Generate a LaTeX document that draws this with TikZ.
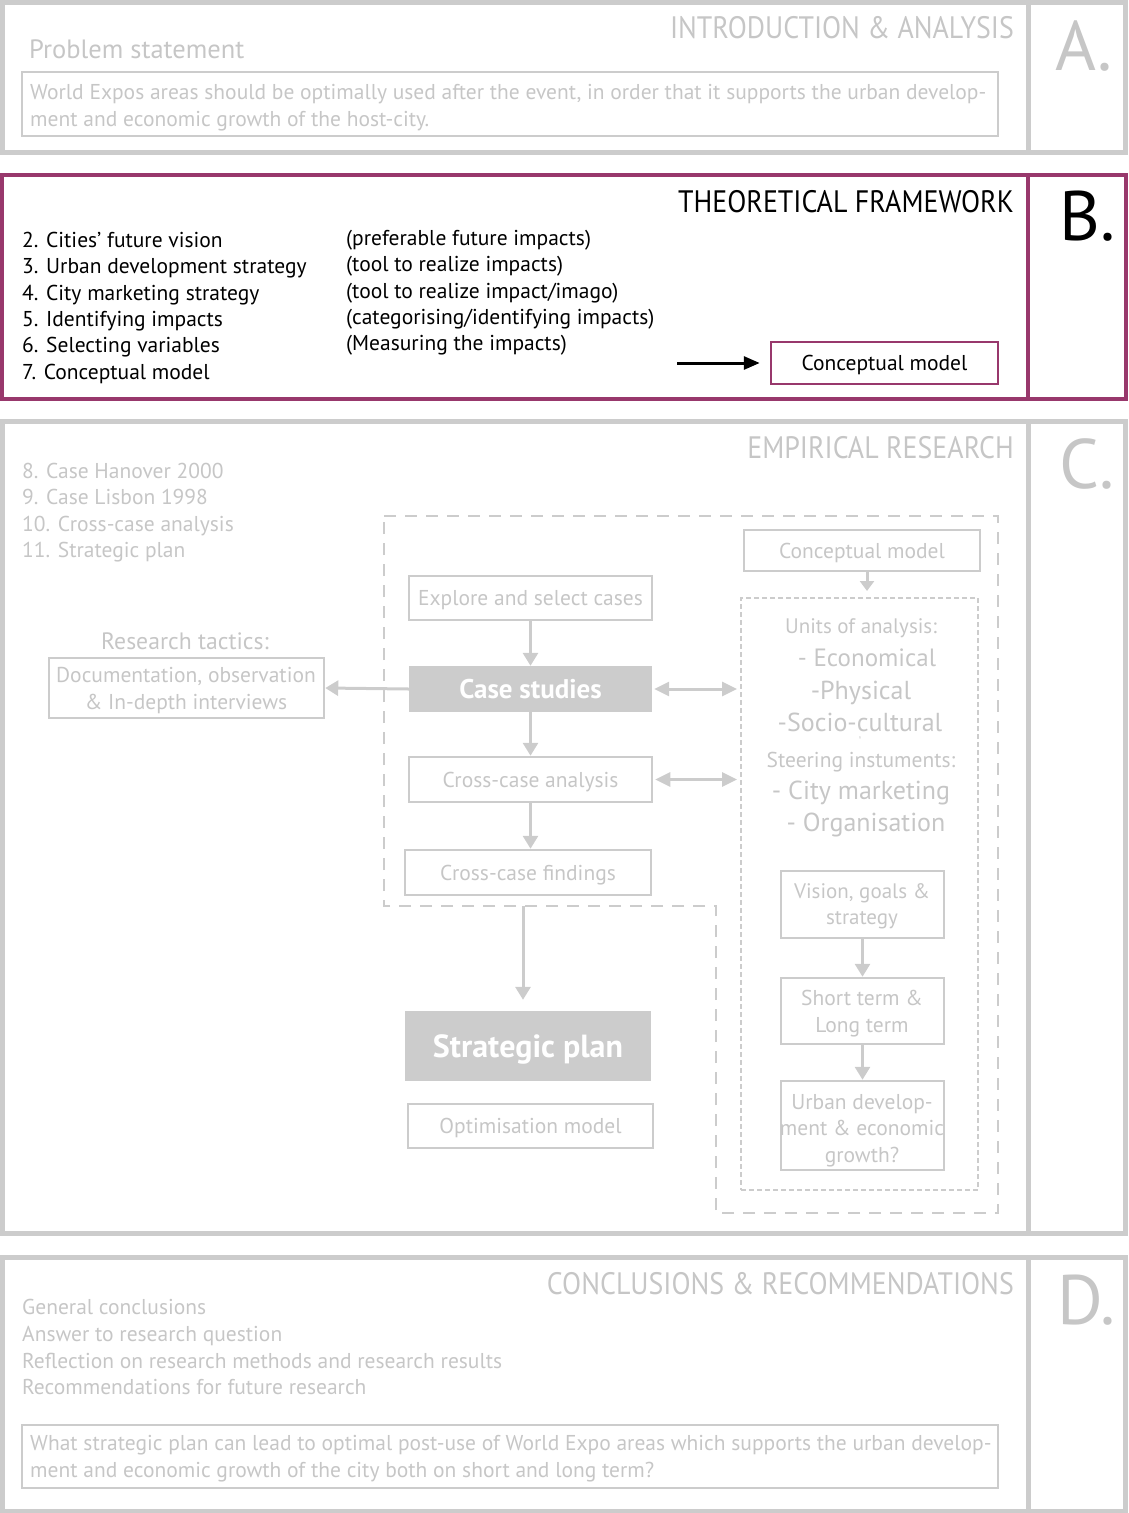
\documentclass[tikz,border=0pt]{standalone}
\usepackage{fontspec}
\setmainfont{PT Sans}
\newfontfamily\headfont[FakeStretch=0.9]{PT Sans}
\usetikzlibrary{arrows.meta}
\definecolor{fr}{RGB}{204,204,204}
\definecolor{tx}{RGB}{198,198,198}
\definecolor{pl}{RGB}{152,56,108}
\newcommand{\myfs}[1]{\fontsize{#1}{#1}\selectfont}
\begin{document}
\begin{tikzpicture}[x=1pt,y=-1pt,
  frame/.style={draw=fr,line width=5},
  pframe/.style={draw=pl,line width=4},
  tl/.style={inner sep=0,anchor=base west,text=tx,font=\myfs{21.5}},
  tc/.style={inner sep=0,anchor=base,text=tx,font=\myfs{21.5}},
  head/.style={inner sep=0,anchor=base east,text=tx,font=\headfont\myfs{31}},
  letter/.style={inner sep=0,anchor=base west,text=tx,font=\myfs{70}},
  gbox/.style={draw=fr,line width=2.5,inner sep=0,text=tx,font=\myfs{21.5},text height=15pt,text depth=0pt},
  fbox/.style={fill=fr,inner sep=0,text=white},
  garrow/.style={draw=fr,line width=3,-{Triangle[width=15,length=13]}},
  gdarrow/.style={draw=fr,line width=3,{Triangle[width=14,length=15]}-{Triangle[width=14,length=15]}},
  longdash/.style={draw=fr,line width=2,dash pattern=on 12 off 9},
  shortdash/.style={draw=fr,line width=2,dash pattern=on 5 off 3}
]
\useasboundingbox (0,0) rectangle (1128,1513);

% ---------- A ----------
\draw[frame] (2.5,2.5) rectangle (1125.5,152);
\draw[frame] (1028,2.5) -- (1028,152);
\node[head] (hA) at (1014,38) {INTRODUCTION \& ANALYSIS};
\node[letter] (lA) at (1055,70) {A.};
\node[tl,font=\myfs{26.5}] (ps) at (29,58) {Problem statement};
\node[gbox,minimum width=976,minimum height=64] (psbox) at (510,104) {};
\node[tl] (ps1) at (30,99) {World Expos areas should be optimally used after the event, in order that it supports the urban develop-};
\node[tl] (ps2) at (30,126) {ment and economic growth of the host-city.};

% ---------- B ----------
\draw[pframe] (2,175) rectangle (1126,399);
\draw[pframe] (1028,175) -- (1028,399);
\node[head,text=black] (hB) at (1014,212) {THEORETICAL FRAMEWORK};
\node[letter,text=black] (lB) at (1059,240) {B.};
\node[tl,text=black] (b1) at (22,247) {2. Cities’ future vision};
\node[tl,text=black] (b2) at (22,273) {3. Urban development strategy};
\node[tl,text=black] (b3) at (22,300) {4. City marketing strategy};
\node[tl,text=black] (b4) at (22,326) {5. Identifying impacts};
\node[tl,text=black] (b5) at (22,352) {6. Selecting variables};
\node[tl,text=black] (b6) at (22,379) {7. Conceptual model};
\node[tl,text=black] (c1) at (346,245) {(preferable future impacts)};
\node[tl,text=black] (c2) at (346,271) {(tool to realize impacts)};
\node[tl,text=black] (c3) at (346,298) {(tool to realize impact/imago)};
\node[tl,text=black] (c4) at (346,324) {(categorising/identifying impacts)};
\node[tl,text=black] (c5) at (346,350) {(Measuring the impacts)};
\node[gbox,draw=pl,text=black,minimum width=227,minimum height=42] (cmB) at (884.5,363) {Conceptual model};
\coordinate (arrB) at (677,363);
\draw[line width=3,-{Triangle[width=13,length=16]}] (arrB) -- ([xshift=-10]cmB.west);

% ---------- C ----------
\draw[frame] (2.5,421) rectangle (1125.5,1233);
\draw[frame] (1028,421) -- (1028,1233);
\node[head] (hC) at (1014,458) {EMPIRICAL RESEARCH};
\node[letter] (lC) at (1059,488) {C.};
\node[tl] (e1) at (22,478) {8. Case Hanover 2000};
\node[tl] (e2) at (22,504) {9. Case Lisbon 1998};
\node[tl] (e3) at (22,531) {10. Cross-case analysis};
\node[tl] (e4) at (22,557) {11. Strategic plan};

\draw[longdash] (384,516) -- (998,516) -- (998,1213) -- (716,1213) -- (716,906) -- (384,906) -- cycle;
\node[draw=fr,line width=2,dash pattern=on 5 off 3,minimum width=237,minimum height=592,inner sep=0] (inner) at (859.5,894) {};

\node[tc,font=\myfs{23.7}] (rt) at (185,649) {Research tactics:};
\node[gbox,minimum width=275,minimum height=60] (doc) at (186.5,688) {};
\node[tc] (doc1) at (186,682) {Documentation, observation};
\node[tc] (doc2) at (186,709) {\& In-depth interviews};

\node[gbox,minimum width=243,minimum height=44] (explore) at (530.5,598) {Explore and select cases};
\node[fbox,minimum width=243,minimum height=46,font=\bfseries\myfs{27},text height=19pt,text depth=0pt] (casest) at (530.5,689) {Case studies};
\node[gbox,minimum width=243,minimum height=45] (ccana) at (530.5,779.5) {Cross-case analysis};
\node[gbox,minimum width=246,minimum height=45] (ccfind) at (528,872.5) {Cross-case findings};
\node[fbox,minimum width=246,minimum height=70,font=\bfseries\myfs{32},text height=22.5pt,text depth=0pt] (strat) at (528,1046) {Strategic plan};
\node[gbox,minimum width=245,minimum height=44] (optim) at (530.5,1126) {Optimisation model};

\draw[garrow] (explore.south) -- (casest.north);
\draw[garrow] (casest.south) -- (ccana.north);
\draw[garrow] (ccana.south) -- (ccana.south |- ccfind.north);
\draw[garrow] (casest.west) -- (doc.east);
\draw[gdarrow,shorten <=2] (casest.east) -- ([xshift=-3]casest.east -| inner.west);
\draw[gdarrow,shorten <=2] (ccana.east) -- ([xshift=-3]ccana.east -| inner.west);
\coordinate (sp) at (523,906);
\draw[garrow,shorten >=11] (sp) -- (sp |- strat.north);

\node[gbox,minimum width=236,minimum height=41] (cmC) at (862,550.5) {Conceptual model};
\draw[draw=fr,line width=3,-{Triangle[width=14,length=10]},shorten >=6] ([xshift=5]cmC.south) -- ([xshift=5]cmC.south |- inner.north);

\node[tc,font=\myfs{21}] (u1) at (861,633) {Units of analysis:};
\node[tc,font=\myfs{25}] (u2) at (867,666) {- Economical};
\node[tc,font=\myfs{26}] (u3) at (861,699) {-Physical};
\node[tc,font=\myfs{26}] (u4) at (860,731) {-Socio-cultural};
\node[tc,font=\myfs{4}] (u9) at (860,739) {9};
\node[tc] (s1) at (861,767) {Steering instuments:};
\node[tc,font=\myfs{26}] (s2) at (861,799) {- City marketing};
\node[tc,font=\myfs{26}] (s3) at (866,831) {- Organisation};

\node[gbox,minimum width=163,minimum height=67] (vis) at (862.5,904.5) {};
\node[tc,font=\myfs{21}] (v1) at (862,898) {Vision, goals \&};
\node[tc,font=\myfs{21}] (v2) at (862,924) {strategy};
\node[gbox,minimum width=163,minimum height=66] (stlt) at (862.5,1011) {};
\node[tc] (st1) at (862,1005) {Short term \&};
\node[tc] (st2) at (862,1032) {Long term};
\node[gbox,minimum width=163,minimum height=89] (urb) at (862.5,1125.5) {};
\node[tc] (ur1) at (862,1109) {Urban develop-};
\node[tc] (ur2) at (862,1135) {ment \& economic};
\node[tc] (ur3) at (862,1162) {growth?};
\draw[garrow] (vis.south) -- (stlt.north);
\draw[garrow] (stlt.south) -- (urb.north);

% ---------- D ----------
\draw[frame] (2.5,1257) rectangle (1125.5,1511);
\draw[frame] (1028,1257) -- (1028,1511);
\node[head] (hD) at (1014,1294) {CONCLUSIONS \& RECOMMENDATIONS};
\node[letter] (lD) at (1057,1324) {D.};
\node[tl] (d1) at (22,1314) {General conclusions};
\node[tl] (d2) at (22,1341) {Answer to research question};
\node[tl] (d3) at (22,1368) {Reflection on research methods and research results};
\node[tl] (d4) at (22,1394) {Recommendations for future research};
\node[gbox,minimum width=976,minimum height=63] (rq) at (510,1456.5) {};
\node[tl] (rq1) at (30,1450) {What strategic plan can lead to optimal post-use of World Expo areas which supports the urban develop-};
\node[tl] (rq2) at (30,1477) {ment and economic growth of the city both on short and long term?};
\end{tikzpicture}
\end{document}
